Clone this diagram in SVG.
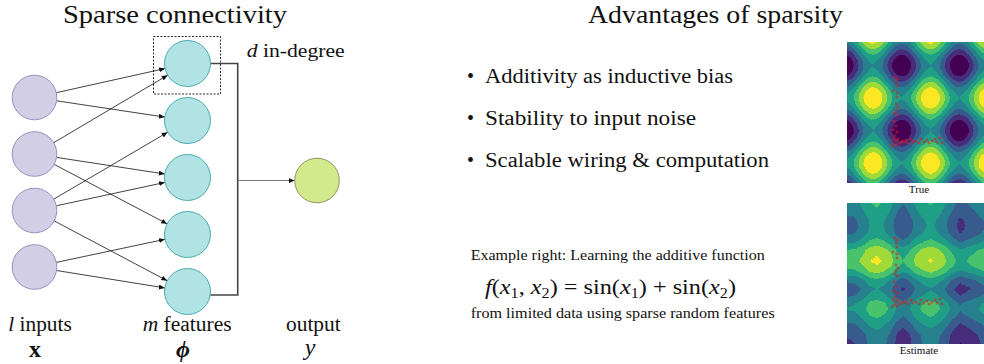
<svg xmlns="http://www.w3.org/2000/svg" xmlns:xlink="http://www.w3.org/1999/xlink" width="984" height="364" viewBox="0 0 984 364">
<defs>
<style>
.t{font-family:"Liberation Serif","DejaVu Serif",serif;fill:#111}
.it{font-style:italic}
.edge{stroke:#111;stroke-width:0.8;fill:none;marker-end:url(#ah)}
.in{fill:#d1cee6;stroke:#8c88b6;stroke-width:0.9}
.ft{fill:#b1e3e5;stroke:#3aa3a5;stroke-width:0.9}
.out{fill:#d3ea8c;stroke:#7f8a5a;stroke-width:0.9}
.pm{stroke:#e41a1c;stroke-width:0.65;fill:none}
</style>
<marker id="ah" markerUnits="userSpaceOnUse" markerWidth="7" markerHeight="6" refX="6" refY="2.5" orient="auto">
<path d="M0,0 L6,2.5 L0,5 z" fill="#111"/>
</marker>
<linearGradient id="tx" gradientUnits="userSpaceOnUse" x1="873" y1="0" x2="930.5" y2="0" spreadMethod="repeat">
<stop offset="0" stop-color="rgb(255,255,255)"/><stop offset="0.0417" stop-color="rgb(251,251,251)"/><stop offset="0.0833" stop-color="rgb(238,238,238)"/><stop offset="0.125" stop-color="rgb(218,218,218)"/><stop offset="0.1667" stop-color="rgb(191,191,191)"/><stop offset="0.2083" stop-color="rgb(160,160,160)"/><stop offset="0.25" stop-color="rgb(128,128,128)"/><stop offset="0.2917" stop-color="rgb(95,95,95)"/><stop offset="0.3333" stop-color="rgb(64,64,64)"/><stop offset="0.375" stop-color="rgb(37,37,37)"/><stop offset="0.4167" stop-color="rgb(17,17,17)"/><stop offset="0.4583" stop-color="rgb(4,4,4)"/><stop offset="0.5" stop-color="rgb(0,0,0)"/><stop offset="0.5417" stop-color="rgb(4,4,4)"/><stop offset="0.5833" stop-color="rgb(17,17,17)"/><stop offset="0.625" stop-color="rgb(37,37,37)"/><stop offset="0.6667" stop-color="rgb(64,64,64)"/><stop offset="0.7083" stop-color="rgb(95,95,95)"/><stop offset="0.75" stop-color="rgb(128,128,128)"/><stop offset="0.7917" stop-color="rgb(160,160,160)"/><stop offset="0.8333" stop-color="rgb(191,191,191)"/><stop offset="0.875" stop-color="rgb(218,218,218)"/><stop offset="0.9167" stop-color="rgb(238,238,238)"/><stop offset="0.9583" stop-color="rgb(251,251,251)"/><stop offset="1" stop-color="rgb(255,255,255)"/>
</linearGradient>
<linearGradient id="ty" href="#tx" xlink:href="#tx" gradientUnits="userSpaceOnUse" x1="0" y1="98" x2="0" y2="163" spreadMethod="repeat"/>
<linearGradient id="ex" gradientUnits="userSpaceOnUse" x1="847" y1="0" x2="984" y2="0">
<stop offset="0" stop-color="rgb(115,115,115)"/><stop offset="0.0584" stop-color="rgb(122,122,122)"/><stop offset="0.1168" stop-color="rgb(158,158,158)"/><stop offset="0.1679" stop-color="rgb(204,204,204)"/><stop offset="0.219" stop-color="rgb(219,219,219)"/><stop offset="0.2701" stop-color="rgb(199,199,199)"/><stop offset="0.3212" stop-color="rgb(160,160,160)"/><stop offset="0.365" stop-color="rgb(105,105,105)"/><stop offset="0.4088" stop-color="rgb(77,77,77)"/><stop offset="0.4526" stop-color="rgb(105,105,105)"/><stop offset="0.5036" stop-color="rgb(158,158,158)"/><stop offset="0.562" stop-color="rgb(194,194,194)"/><stop offset="0.6131" stop-color="rgb(212,212,212)"/><stop offset="0.6642" stop-color="rgb(189,189,189)"/><stop offset="0.7153" stop-color="rgb(150,150,150)"/><stop offset="0.7664" stop-color="rgb(100,100,100)"/><stop offset="0.8248" stop-color="rgb(56,56,56)"/><stop offset="0.8759" stop-color="rgb(77,77,77)"/><stop offset="0.9343" stop-color="rgb(102,102,102)"/><stop offset="1" stop-color="rgb(133,133,133)"/>
</linearGradient>
<linearGradient id="ey" gradientUnits="userSpaceOnUse" x1="0" y1="203" x2="0" y2="344">
<stop offset="0" stop-color="rgb(115,115,115)"/><stop offset="0.0709" stop-color="rgb(84,84,84)"/><stop offset="0.1206" stop-color="rgb(61,61,61)"/><stop offset="0.1631" stop-color="rgb(54,54,54)"/><stop offset="0.2128" stop-color="rgb(66,66,66)"/><stop offset="0.2766" stop-color="rgb(128,128,128)"/><stop offset="0.3333" stop-color="rgb(205,205,205)"/><stop offset="0.3759" stop-color="rgb(230,230,230)"/><stop offset="0.4113" stop-color="rgb(242,242,242)"/><stop offset="0.4468" stop-color="rgb(226,226,226)"/><stop offset="0.4894" stop-color="rgb(179,179,179)"/><stop offset="0.5461" stop-color="rgb(90,90,90)"/><stop offset="0.6099" stop-color="rgb(38,38,38)"/><stop offset="0.6596" stop-color="rgb(70,70,70)"/><stop offset="0.7092" stop-color="rgb(128,128,128)"/><stop offset="0.7518" stop-color="rgb(143,143,143)"/><stop offset="0.8014" stop-color="rgb(115,115,115)"/><stop offset="0.8723" stop-color="rgb(56,56,56)"/><stop offset="0.9362" stop-color="rgb(15,15,15)"/><stop offset="1" stop-color="rgb(5,5,5)"/>
</linearGradient>
<filter id="vir" filterUnits="userSpaceOnUse" x="847" y="0" width="137" height="364" color-interpolation-filters="sRGB">
<feComponentTransfer>
<feFuncR type="discrete" tableValues="0.267 0.278 0.216 0.153 0.122 0.290 0.627 0.992"/>
<feFuncG type="discrete" tableValues="0.004 0.176 0.357 0.502 0.631 0.761 0.855 0.906"/>
<feFuncB type="discrete" tableValues="0.329 0.482 0.553 0.557 0.529 0.427 0.224 0.145"/>
</feComponentTransfer>
</filter>
<path id="pts" class="pm" d="M893.4 77h3.2m-1.6-1.6v3.2M895.4 79h3.2m-1.6-1.6v3.2M894.4 82h3.2m-1.6-1.6v3.2M895.4 86h3.2m-1.6-1.6v3.2M891.4 91h3.2m-1.6-1.6v3.2M895.4 93h3.2m-1.6-1.6v3.2M895.4 97h3.2m-1.6-1.6v3.2M894.4 104h3.2m-1.6-1.6v3.2M896.4 107h3.2m-1.6-1.6v3.2M894.4 110h3.2m-1.6-1.6v3.2M893.4 113h3.2m-1.6-1.6v3.2M895.4 115h3.2m-1.6-1.6v3.2M892.4 121h3.2m-1.6-1.6v3.2M894.4 126h3.2m-1.6-1.6v3.2M891.4 130h3.2m-1.6-1.6v3.2M895.4 132h3.2m-1.6-1.6v3.2M893.4 136h3.2m-1.6-1.6v3.2M891.4 139h3.2m-1.6-1.6v3.2M894.4 141h3.2m-1.6-1.6v3.2M896.4 139h3.2m-1.6-1.6v3.2M890.4 146h3.2m-1.6-1.6v3.2M892.4 144h3.2m-1.6-1.6v3.2M895.4 145h3.2m-1.6-1.6v3.2M898.4 143h3.2m-1.6-1.6v3.2M900.4 141h3.2m-1.6-1.6v3.2M902.4 142h3.2m-1.6-1.6v3.2M904.4 140h3.2m-1.6-1.6v3.2M906.4 143h3.2m-1.6-1.6v3.2M909.4 139h3.2m-1.6-1.6v3.2M911.4 142h3.2m-1.6-1.6v3.2M914.4 141h3.2m-1.6-1.6v3.2M917.4 143h3.2m-1.6-1.6v3.2M919.4 139h3.2m-1.6-1.6v3.2M922.4 142h3.2m-1.6-1.6v3.2M925.4 140h3.2m-1.6-1.6v3.2M927.4 143h3.2m-1.6-1.6v3.2M930.4 141h3.2m-1.6-1.6v3.2M933.4 139h3.2m-1.6-1.6v3.2M935.4 142h3.2m-1.6-1.6v3.2M938.4 138h3.2m-1.6-1.6v3.2M940.4 143h3.2m-1.6-1.6v3.2"/>
</defs>
<rect width="984" height="364" fill="#ffffff"/>

<text class="t" x="63" y="23" font-size="26" textLength="224" lengthAdjust="spacingAndGlyphs">Sparse connectivity</text>
<text class="t" x="588" y="23" font-size="26" textLength="255" lengthAdjust="spacingAndGlyphs">Advantages of sparsity</text>

<g id="connectors">
<path class="edge" d="M56.3,92.7 L165.1,68.5"/>
<path class="edge" d="M56.6,100.8 L164.8,117.1"/>
<path class="edge" d="M53.7,142.7 L167.7,75.2"/>
<path class="edge" d="M56.5,157.4 L164.8,174.0"/>
<path class="edge" d="M54.2,164.4 L167.1,223.8"/>
<path class="edge" d="M53.7,199.2 L167.7,132.2"/>
<path class="edge" d="M56.3,205.8 L165.0,182.4"/>
<path class="edge" d="M54.2,220.9 L167.2,280.7"/>
<path class="edge" d="M56.3,262.4 L165.0,239.3"/>
<path class="edge" d="M56.5,270.5 L164.8,287.9"/>
<path d="M210.5,63.5 H237.7 V295 H210.2" fill="none" stroke="#444" stroke-width="1.6"/>
<path d="M237.7,180.5 H294.7" fill="none" stroke="#777" stroke-width="1" marker-end="url(#ah)"/>
</g>

<g id="in1"><circle class="in" cx="34.5" cy="97.5" r="22.3"/></g>
<g id="in2"><circle class="in" cx="34.5" cy="154" r="22.3"/></g>
<g id="in3"><circle class="in" cx="34.5" cy="210.5" r="22.3"/></g>
<g id="in4"><circle class="in" cx="34.5" cy="267" r="22.3"/></g>
<g id="f1"><circle class="ft" cx="187.5" cy="63.5" r="23"/><rect x="153.5" y="36.5" width="67" height="57.5" fill="none" stroke="#111" stroke-width="0.9" stroke-dasharray="2,1.5"/></g>
<g id="f2"><circle class="ft" cx="187.5" cy="120.5" r="23"/></g>
<g id="f3"><circle class="ft" cx="187.5" cy="177.5" r="23"/></g>
<g id="f4"><circle class="ft" cx="187.5" cy="234.5" r="23"/></g>
<g id="f5"><circle class="ft" cx="187.5" cy="291.5" r="23"/></g>
<g id="out"><circle class="out" cx="317" cy="180.5" r="22.3"/></g>

<text class="t" x="246.7" y="56.5" font-size="18" textLength="98" lengthAdjust="spacingAndGlyphs"><tspan class="it">d</tspan> in-degree</text>
<text class="t" x="8.3" y="331" font-size="20" textLength="63.4" lengthAdjust="spacingAndGlyphs"><tspan class="it">l</tspan> inputs</text>
<text class="t" x="142.7" y="331" font-size="20" textLength="89" lengthAdjust="spacingAndGlyphs"><tspan class="it">m</tspan> features</text>
<text class="t" x="286" y="331" font-size="20" textLength="54.7" lengthAdjust="spacingAndGlyphs">output</text>
<text class="t" x="35" y="357" font-size="24" font-weight="bold" text-anchor="middle">x</text>
<text class="t it" x="183" y="357" font-size="24" font-weight="bold" text-anchor="middle">ϕ</text>
<text class="t it" x="310" y="355" font-size="24" text-anchor="middle">y</text>

<g id="bullets">
<text class="t" x="467" y="83" font-size="20">•</text>
<text class="t" x="485" y="83" font-size="20" textLength="248" lengthAdjust="spacingAndGlyphs">Additivity as inductive bias</text>
<text class="t" x="467" y="125" font-size="20">•</text>
<text class="t" x="485" y="125" font-size="20" textLength="211" lengthAdjust="spacingAndGlyphs">Stability to input noise</text>
<text class="t" x="467" y="167" font-size="20">•</text>
<text class="t" x="485" y="167" font-size="20" textLength="284" lengthAdjust="spacingAndGlyphs">Scalable wiring &amp; computation</text>
</g>

<text class="t" x="470.7" y="260" font-size="15" textLength="294" lengthAdjust="spacingAndGlyphs">Example right: Learning the additive function</text>
<text class="t" x="485" y="294" font-size="21" textLength="251" lengthAdjust="spacingAndGlyphs"><tspan class="it">f</tspan>(<tspan class="it">x</tspan><tspan font-size="14" dy="4">1</tspan><tspan dy="-4">, </tspan><tspan class="it">x</tspan><tspan font-size="14" dy="4">2</tspan><tspan dy="-4">) = sin(</tspan><tspan class="it">x</tspan><tspan font-size="14" dy="4">1</tspan><tspan dy="-4">) + sin(</tspan><tspan class="it">x</tspan><tspan font-size="14" dy="4">2</tspan><tspan dy="-4">)</tspan></text>
<text class="t" x="470.7" y="318" font-size="15" textLength="304" lengthAdjust="spacingAndGlyphs">from limited data using sparse random features</text>

<g id="plot-true">
<g filter="url(#vir)">
<rect x="847" y="42" width="137" height="141" fill="url(#tx)"/>
<rect x="847" y="42" width="137" height="141" fill="url(#ty)" fill-opacity="0.5"/>
</g>
<use href="#pts" xlink:href="#pts"/>
<text class="t" x="919" y="193" font-size="11" text-anchor="middle">True</text>
</g>

<g id="plot-estimate">
<g filter="url(#vir)">
<rect x="847" y="203" width="137" height="141" fill="url(#ex)"/>
<rect x="847" y="203" width="137" height="141" fill="url(#ey)" fill-opacity="0.5"/>
</g>
<use href="#pts" xlink:href="#pts" transform="translate(0,161)"/>
<text class="t" x="919" y="354" font-size="11" text-anchor="middle">Estimate</text>
</g>
</svg>
